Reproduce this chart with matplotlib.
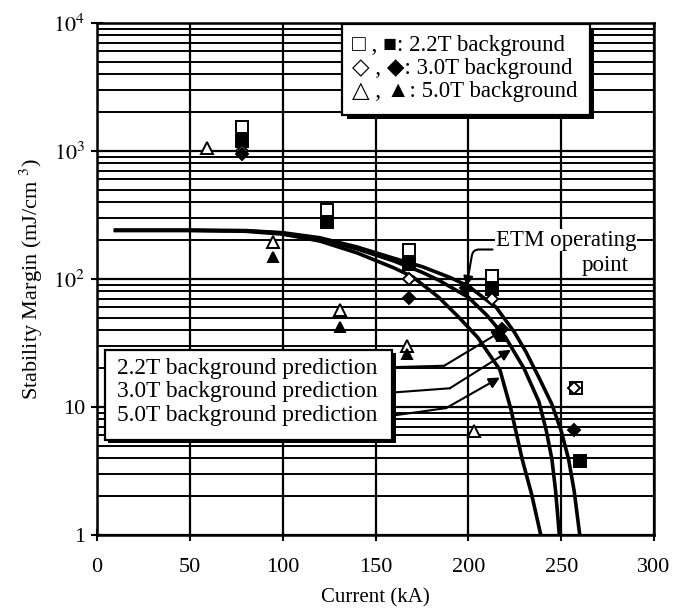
import numpy as np
import matplotlib
matplotlib.use("Agg")
import matplotlib.pyplot as plt
from matplotlib.patches import Rectangle
from matplotlib.ticker import FixedLocator, LogLocator, NullFormatter

plt.rcParams['font.family'] = ['Liberation Serif', 'DejaVu Sans']
plt.rcParams['mathtext.fontset'] = 'stix'

# --- measured points (current kA, stability margin mJ/cm3) ---
sq_open_I = [78, 124, 168, 213, 258]
sq_open_M = [1550, 345, 170, 105, 14]
sq_fill_I = [78, 124, 168, 213, 260]
sq_fill_M = [1200, 280, 130, 83, 3.8]
dia_open_I = [78, 168, 213, 257]
dia_open_M = [1000, 100, 70, 14]
dia_fill_I = [78, 168, 199, 218, 257]
dia_fill_M = [950, 71, 85, 41, 6.6]
tri_open_I = [59, 95, 131, 167, 203]
tri_open_M = [1050, 195, 57, 30, 6.5]
tri_fill_I = [95, 131, 167, 218]
tri_fill_M = [148, 42, 26, 36]

# --- predicted curves ---
pred22_I = [10, 50, 80, 100, 120, 140, 160, 175, 190, 200, 215, 225, 231, 238, 245, 250, 254, 257, 260]
pred22_M = [240, 240, 239, 230, 210, 178, 145, 125, 103, 88, 60, 38, 27, 17, 10.5, 6.5, 3.9, 2.2, 1.0]
pred30_I = [10, 50, 80, 100, 120, 140, 160, 175, 184, 200, 210, 220, 230, 238, 242, 245, 247, 249]
pred30_M = [240, 240, 238, 228, 205, 172, 138, 113, 98, 72, 52, 35, 20, 11, 6.5, 3.9, 2.2, 1.0]
pred50_I = [10, 50, 80, 100, 120, 140, 160, 170, 184, 195, 205, 217, 223, 229, 234, 239]
pred50_M = [240, 240, 236, 224, 198, 160, 122, 104, 72, 50, 35, 19.5, 9.5, 3.9, 2.1, 1.0]

x_ticks = [0, 50, 100, 150, 200, 250, 300]
y_ticks = [1, 10, 100, 1000, 10000]
y_tick_labels = ['1', '10', '$10^{2}$', '$10^{3}$', '$10^{4}$']

fig = plt.figure(figsize=(6.76, 6.14), dpi=100)
ax = fig.add_axes([0.1435, 0.1287, 0.824, 0.8338])
ax.set_yscale('log')
ax.set_xlim(0, 300)
ax.set_ylim(1, 1e4)

ax.xaxis.set_major_locator(FixedLocator(x_ticks))
ax.set_xticklabels([str(t) for t in x_ticks], fontsize=16)
ax.yaxis.set_major_locator(FixedLocator(y_ticks))
ax.set_yticklabels(y_tick_labels, fontsize=16)
ax.yaxis.set_minor_locator(LogLocator(base=10, subs=np.arange(2, 10)))
ax.yaxis.set_minor_formatter(NullFormatter())
ax.tick_params(axis='x', which='major', direction='inout', length=9, width=1.5, pad=12)
ax.tick_params(axis='y', which='major', direction='inout', length=9, width=1.5, pad=4)
ax.tick_params(axis='y', which='minor', direction='in', length=4, width=1.2)

ax.grid(True, which='major', axis='both', color='black', lw=1.6)
ax.grid(True, which='minor', axis='y', color='black', lw=1.4)
ax.set_axisbelow(True)
for sp in ax.spines.values():
    sp.set_linewidth(1.8)

ax.set_xlabel('Current (kA)', fontsize=15, labelpad=8)
ax.set_ylabel('Stability Margin (mJ/cm $^{3}$)', fontsize=16, labelpad=6)

# prediction curves
for I, M in [(pred22_I, pred22_M), (pred30_I, pred30_M), (pred50_I, pred50_M)]:
    ax.plot(I, M, color='black', lw=2.6, zorder=3)

# data points
mk = dict(linestyle='none', color='black', mec='black', mew=1.4, zorder=4)
ax.plot(sq_open_I, sq_open_M, marker='s', ms=8, mfc='white', **mk)
ax.plot(sq_fill_I, sq_fill_M, marker='s', ms=8, mfc='black', **mk)
ax.plot(dia_open_I, dia_open_M, marker='D', ms=6.5, mfc='white', **mk)
ax.plot(dia_fill_I, dia_fill_M, marker='D', ms=6, mfc='black', **mk)
ax.plot(tri_open_I, tri_open_M, marker='^', ms=9, mfc='white', **mk)
ax.plot(tri_fill_I, tri_fill_M, marker='^', ms=7, mfc='black', **mk)

# upper legend box (with drop shadow)
tr = ax.transAxes
ax.add_patch(Rectangle((0.448, 0.812), 0.445, 0.178, transform=tr,
                       facecolor='black', edgecolor='none', zorder=5))
ax.add_patch(Rectangle((0.44, 0.82), 0.445, 0.178, transform=tr,
                       facecolor='white', edgecolor='black', lw=1.6, zorder=6))
legend_lines = ['\u25a1 , \u25a0: 2.2T background',
                '\u25c7 , \u25c6: 3.0T background',
                '\u25b3 , \u25b2: 5.0T background']
for i, s in enumerate(legend_lines):
    ax.text(0.458, 0.957 - i * 0.045, s, transform=tr, fontsize=16.5,
            va='center', ha='left', zorder=7)

# lower legend box (prediction)
ax.add_patch(Rectangle((0.020, 0.180), 0.516, 0.175, transform=tr,
                       facecolor='black', edgecolor='none', zorder=5))
ax.add_patch(Rectangle((0.014, 0.186), 0.516, 0.175, transform=tr,
                       facecolor='white', edgecolor='black', lw=1.6, zorder=6))
pred_labels = ['2.2T background prediction',
               '3.0T background prediction',
               '5.0T background prediction']
for i, s in enumerate(pred_labels):
    ax.text(0.036, 0.326 - i * 0.046, s, transform=tr, fontsize=16.8,
            va='center', ha='left', zorder=7)

# leader arrows from prediction box to the curves
leaders = [((160, 20.5), (187, 21), (219, 40)),
           ((160, 13), (190, 14), (223, 28)),
           ((160, 8.6), (188, 9.8), (217, 17))]
for start, mid, tip in leaders:
    ax.plot([start[0], mid[0]], [start[1], mid[1]], color='black', lw=1.5, zorder=4)
    ax.annotate('', xy=tip, xytext=mid,
                arrowprops=dict(arrowstyle='-|>', color='black', lw=1.5,
                                mutation_scale=16, shrinkA=0, shrinkB=0),
                zorder=4)

# ETM operating point
ax.text(0.716, 0.576, 'ETM operating', transform=tr, fontsize=16.5,
        ha='left', va='center', zorder=7,
        bbox=dict(facecolor='white', edgecolor='none', pad=0.5))
ax.text(0.955, 0.527, 'point', transform=tr, fontsize=16.5,
        ha='right', va='center', zorder=7,
        bbox=dict(facecolor='white', edgecolor='none', pad=0.5))
ax.annotate('', xy=(199, 88), xytext=(213, 170),
            arrowprops=dict(arrowstyle='-|>', color='black', lw=1.5,
                            mutation_scale=14, shrinkA=0, shrinkB=0,
                            connectionstyle='angle,angleA=0,angleB=80,rad=6'),
            zorder=4)

fig.savefig('out.png', dpi=100)
